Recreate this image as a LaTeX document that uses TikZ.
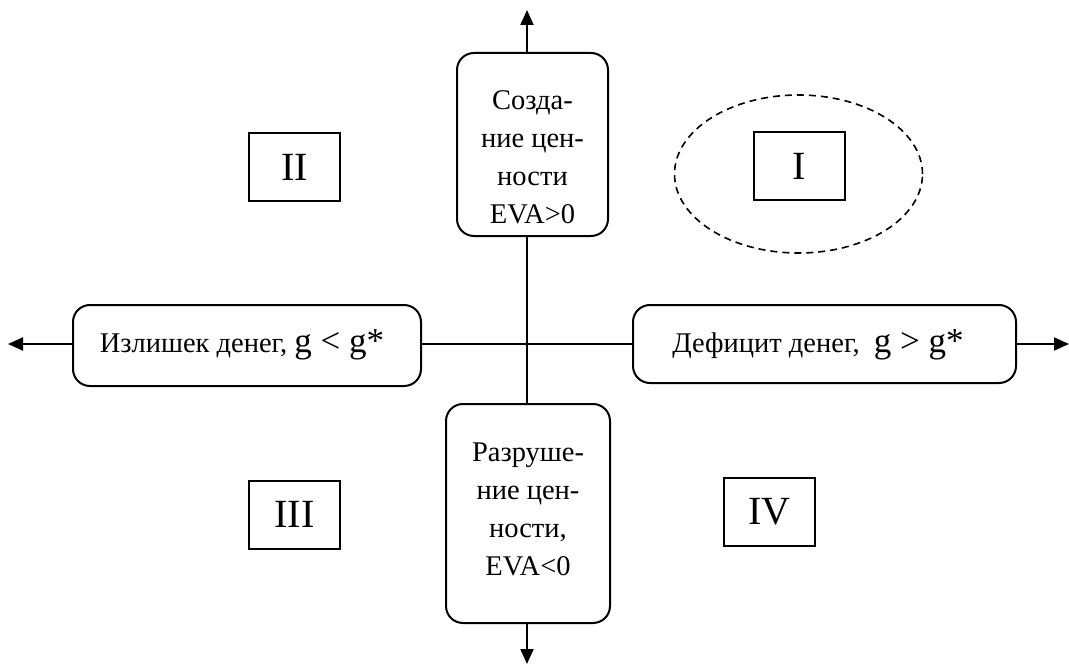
\documentclass[tikz,border=0pt]{standalone}
\usepackage{fontspec}
\setmainfont{Liberation Serif}
\usetikzlibrary{arrows.meta,shapes.geometric}
\begin{document}
\begin{tikzpicture}[x=1pt,y=-1pt,
  line width=2pt,
  axis/.style={-{Triangle[length=15pt,width=13pt]}},
  rbox/.style={draw,fill=white,rounded corners=17pt,inner sep=0pt},
  numbox/.style={draw,fill=white,inner sep=0pt,minimum width=91pt,minimum height=68pt,font=\fontsize{40}{44}\selectfont},
  lbl/.style={align=center,font=\fontsize{28.5}{38}\selectfont,inner sep=0pt},
  bigg/.style={}]
\useasboundingbox (0,0) rectangle (1069,666);
\coordinate (c) at (527,344);
\coordinate (tT) at (527,10);
\coordinate (tB) at (527,664);
\coordinate (tL) at (8,344);
\coordinate (tR) at (1069,344);
\draw[axis] (c) -- (tT);
\draw[axis] (c) -- (tB);
\draw[axis] (c) -- (tL);
\draw[axis] (c) -- (tR);
% vertical boxes
\node[rbox,minimum width=151pt,minimum height=183pt] (top) at (532.5,144.5) {};
\node[lbl] (toptxt) at (532.5,157) {Созда-\\ние цен-\\ности\\EVA>0};
\node[rbox,minimum width=164pt,minimum height=219pt] (bot) at (528,513.5) {};
\node[lbl] (bottxt) at (528,509) {Разруше-\\ние цен-\\ности,\\EVA<0};
% horizontal boxes
\node[rbox,minimum width=348pt,minimum height=81pt] (left) at (247,345.5) {};
\node[lbl] (lefttxt) at (242,345) {Излишек денег, {\fontsize{35}{38}\selectfont g < g*}};
\node[rbox,minimum width=383pt,minimum height=78pt] (right) at (824.5,344) {};
\node[lbl] (righttxt) at (818,345) {Дефицит денег, \ {\fontsize{35}{38}\selectfont g > g*}};
% ellipse
\node[draw,ellipse,minimum width=248pt,minimum height=158pt,line width=1.6pt,dash pattern=on 7pt off 5pt] (ell) at (798.5,174) {};
% quadrant labels
\node[numbox] (q1) at (799,166) {I};
\node[numbox] (q2) at (294.5,167.5) {II};
\node[numbox] (q3) at (294.5,514.5) {III};
\node[numbox] (q4) at (769.5,512) {IV};
\end{tikzpicture}
\end{document}
